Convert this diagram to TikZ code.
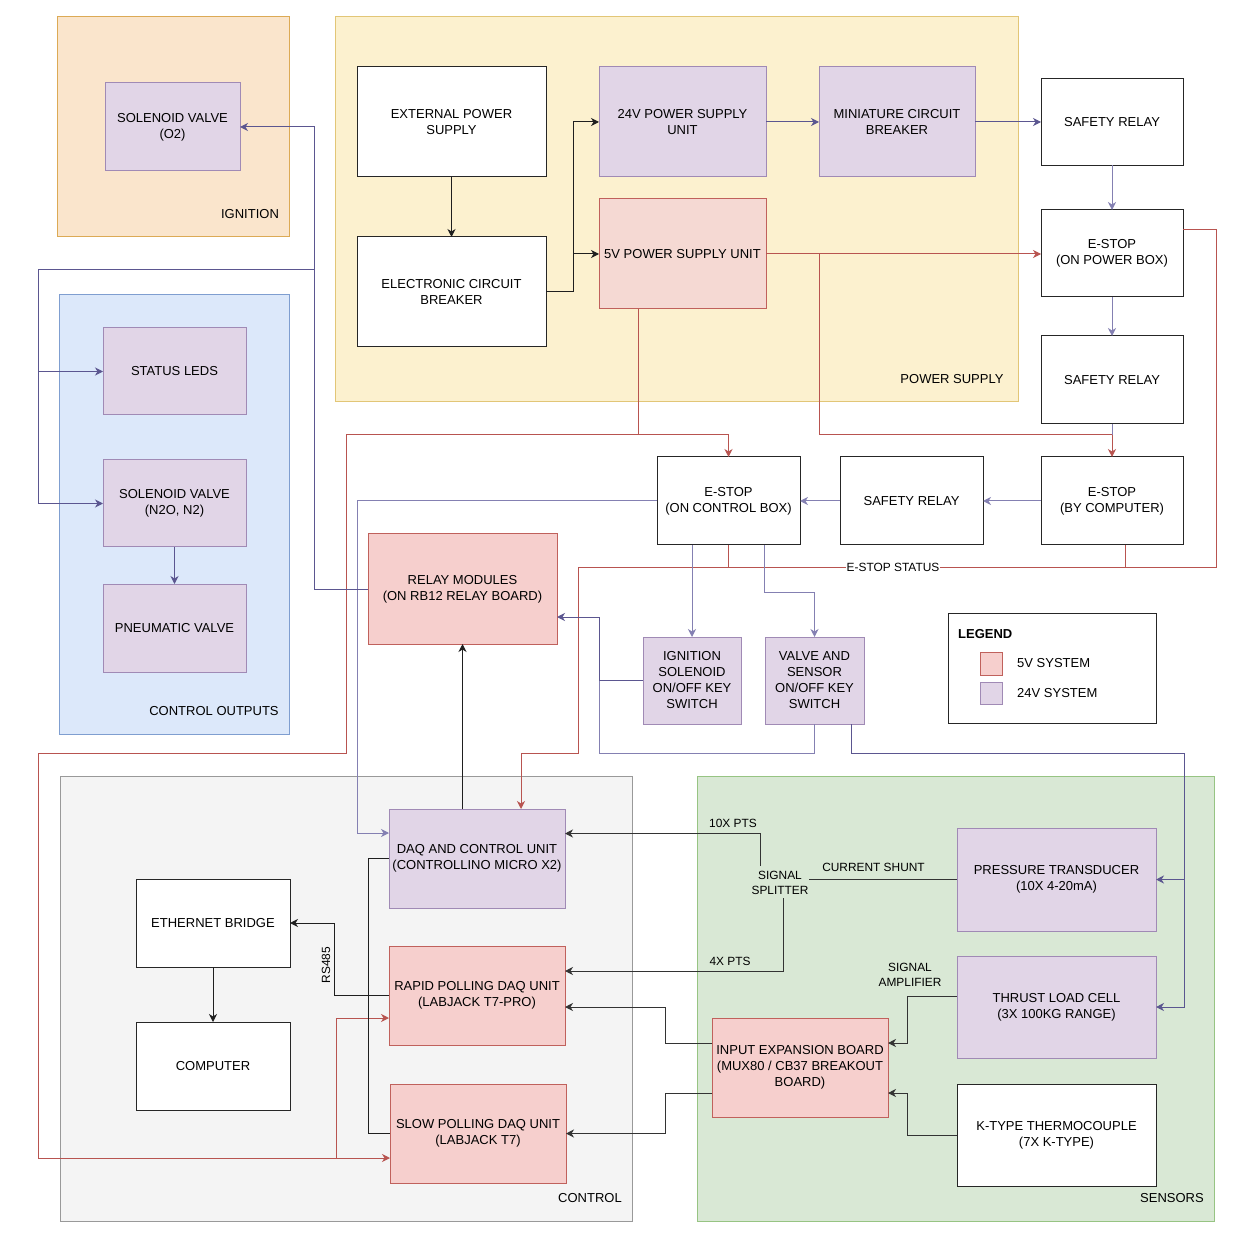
\documentclass[tikz,border=0pt]{standalone}
\usepackage{fontspec}
\newfontfamily\libsans{Liberation Sans}
\usetikzlibrary{arrows.meta}
\newcommand\fmain{\libsans\fontsize{13}{16}\selectfont}
\newcommand\fsmall{\libsans\fontsize{11.9}{14.5}\selectfont}
\definecolor{pfill}{HTML}{E1D5E7}
\definecolor{pstroke}{HTML}{A08AB5}
\definecolor{rfill}{HTML}{F6CFCD}
\definecolor{r5fill}{HTML}{F5D9D3}
\definecolor{rstroke}{HTML}{C0615C}
\definecolor{ofill}{HTML}{FAE5CC}
\definecolor{ostroke}{HTML}{DCAA55}
\definecolor{yfill}{HTML}{FCF1CF}
\definecolor{ystroke}{HTML}{E2C677}
\definecolor{bfill}{HTML}{DCE8FA}
\definecolor{bstroke}{HTML}{7F9ED0}
\definecolor{gfill}{HTML}{F4F4F4}
\definecolor{gstroke}{HTML}{999999}
\definecolor{nfill}{HTML}{D9E8D5}
\definecolor{nstroke}{HTML}{97C483}
\definecolor{pdline}{HTML}{5B5690}
\definecolor{plline}{HTML}{8480B2}
\definecolor{rdline}{HTML}{B85450}
\definecolor{skline}{HTML}{333333}
\tikzset{
  grp/.style={draw, rectangle, inner sep=0pt, outer sep=0pt, line width=1pt},
  box/.style={draw=black!85, fill=white, line width=1pt, inner sep=0pt, outer sep=0pt, align=center, font=\fmain},
  pbox/.style={box, draw=pstroke, fill=pfill},
  rbox/.style={box, draw=rstroke, fill=rfill},
  txt/.style={font=\fmain, align=center, inner sep=0pt},
  lbl/.style={font=\fsmall, align=center, inner sep=0pt},
  arr/.style={-{Stealth[length=8pt,width=8pt,inset=2.5pt]}},
  bk/.style={draw=black!88, line width=1pt},
  sk/.style={draw=skline, line width=1pt},
  pd/.style={draw=pdline, line width=1pt},
  pl/.style={draw=plline, line width=1pt},
  rd/.style={draw=rdline, line width=1pt},
}
\begin{document}
\begin{tikzpicture}[x=1pt,y=-1pt]
\useasboundingbox (0,0) rectangle (1254,1238);
\fill[white] (0,0) rectangle (1254,1238);

% groups
\node[grp, draw=ostroke, fill=ofill, minimum width=232pt, minimum height=220pt] (gign) at (173,127) {};
\node[grp, draw=ystroke, fill=yfill, minimum width=683pt, minimum height=385pt] (gpow) at (676.5,209.5) {};
\node[grp, draw=bstroke, fill=bfill, minimum width=230pt, minimum height=439pt] (gout) at (174,514.5) {};
\node[grp, draw=gstroke, fill=gfill, minimum width=572pt, minimum height=445pt] (gctl) at (346,998.5) {};
\node[grp, draw=nstroke, fill=nfill, minimum width=517pt, minimum height=445pt] (gsen) at (955.5,998.5) {};
\node[txt] (lign) at (250,214) {IGNITION};
\node[txt] (lpow) at (952,379) {POWER SUPPLY};
\node[txt] (lout) at (214,711) {CONTROL OUTPUTS};
\node[txt] (lctl) at (590,1198) {CONTROL};
\node[txt] (lsen) at (1172,1198) {SENSORS};

% nodes
\node[pbox, minimum width=135pt, minimum height=88pt] (solO) at (172.5,127) {SOLENOID VALVE\\(O2)};
\node[box, minimum width=189pt, minimum height=110pt] (eps) at (451.5,122) {EXTERNAL POWER\\SUPPLY};
\node[box, minimum width=189pt, minimum height=110pt] (ecb) at (451.5,292) {ELECTRONIC CIRCUIT\\BREAKER};
\node[pbox, minimum width=167pt, minimum height=110pt] (psu24) at (682.5,122) {24V POWER SUPPLY\\UNIT};
\node[rbox, fill=r5fill, minimum width=167pt, minimum height=110pt] (psu5) at (682.5,254) {5V POWER SUPPLY UNIT};
\node[pbox, minimum width=156pt, minimum height=110pt] (mcb) at (897,122) {MINIATURE CIRCUIT\\BREAKER};
\node[box, minimum width=142pt, minimum height=87pt] (sr1) at (1112,122) {SAFETY RELAY};
\node[box, minimum width=142pt, minimum height=87pt] (espb) at (1112,253.5) {E-STOP\\(ON POWER BOX)};
\node[box, minimum width=142pt, minimum height=88pt] (sr2) at (1112,380) {SAFETY RELAY};
\node[box, minimum width=142pt, minimum height=88pt] (esbc) at (1112,501) {E-STOP\\(BY COMPUTER)};
\node[box, minimum width=143pt, minimum height=88pt] (sr3) at (911.5,501) {SAFETY RELAY};
\node[box, minimum width=143pt, minimum height=88pt] (escb) at (728.5,501) {E-STOP\\(ON CONTROL BOX)};
\node[pbox, minimum width=143pt, minimum height=87pt] (leds) at (174.5,371.5) {STATUS LEDS};
\node[pbox, minimum width=143pt, minimum height=87pt] (solN) at (174.5,503.5) {SOLENOID VALVE\\(N2O, N2)};
\node[pbox, minimum width=143pt, minimum height=88pt] (pneu) at (174.5,628) {PNEUMATIC VALVE};
\node[rbox, minimum width=189pt, minimum height=110pt] (relay) at (462.5,589) {RELAY MODULES\\(ON RB12 RELAY BOARD)};
\node[pbox, minimum width=98pt, minimum height=87pt] (ign) at (692,680.5) {IGNITION\\SOLENOID\\ON/OFF KEY\\SWITCH};
\node[pbox, minimum width=99pt, minimum height=87pt] (valve) at (814.5,680.5) {VALVE AND\\SENSOR\\ON/OFF KEY\\SWITCH};
\node[pbox, minimum width=176pt, minimum height=99pt] (daq) at (477,858.5) {DAQ AND CONTROL UNIT\\(CONTROLLINO MICRO X2)};
\node[box, minimum width=154pt, minimum height=88pt] (eth) at (213,923) {ETHERNET BRIDGE};
\node[box, minimum width=154pt, minimum height=88pt] (comp) at (213,1066) {COMPUTER};
\node[rbox, minimum width=176pt, minimum height=99pt] (rapid) at (477,995.5) {RAPID POLLING DAQ UNIT\\(LABJACK T7-PRO)};
\node[rbox, minimum width=176pt, minimum height=99pt] (slow) at (478,1133.5) {SLOW POLLING DAQ UNIT\\(LABJACK T7)};
\node[pbox, minimum width=199pt, minimum height=103pt] (pt) at (1056.5,879.5) {PRESSURE TRANSDUCER\\(10X 4-20mA)};
\node[pbox, minimum width=199pt, minimum height=102pt] (tlc) at (1056.5,1007) {THRUST LOAD CELL\\(3X 100KG RANGE)};
\node[rbox, minimum width=176pt, minimum height=99pt] (ieb) at (800,1067.5) {INPUT EXPANSION BOARD\\(MUX80 / CB37 BREAKOUT\\BOARD)};
\node[box, minimum width=199pt, minimum height=102pt] (ktc) at (1056.5,1135) {K-TYPE THERMOCOUPLE\\(7X K-TYPE)};

% legend
\node[box, minimum width=208pt, minimum height=110pt] (legend) at (1052,668) {};
\node[txt, font=\fmain\bfseries, anchor=west] (legt) at (958,634) {LEGEND};
\node[rbox, minimum width=22pt, minimum height=23pt] (sw5) at (991,663.5) {};
\node[pbox, minimum width=22pt, minimum height=22pt] (sw24) at (991,693) {};
\node[txt, anchor=west] (leg5) at (1017,663.5) {5V SYSTEM};
\node[txt, anchor=west] (leg24) at (1017,693) {24V SYSTEM};

% text labels in sensors
\node[lbl] (splitter) at (780,883) {SIGNAL\\SPLITTER};
\node[lbl] (l10x) at (733,823) {10X PTS};
\node[lbl] (lshunt) at (873.5,867) {CURRENT SHUNT};
\node[lbl] (l4x) at (730,961) {4X PTS};
\node[lbl] (lamp) at (910,975) {SIGNAL\\AMPLIFIER};
\node[lbl, rotate=90] (lrs) at (326,965) {RS485};

% coordinates
\coordinate (j1) at (573,292);
\coordinate (r1) at (638,435);
\coordinate (r3) at (336,1158);
\coordinate (r4) at (819,254);
\coordinate (r5) at (1112,435);
\coordinate (e1) at (1125,567);
\coordinate (jk) at (599,680.5);
\coordinate (jr) at (1184,753);
\coordinate (jv) at (314,270);
\coordinate (jl) at (38,270);
\coordinate (s1) at (760,866);
\coordinate (s2) at (809,879.5);
\coordinate (s3) at (783,898);

% black connectors power
\draw[bk,arr] (eps.south) -- (ecb.north);
\draw[bk,arr] (ecb.east) -- (j1) |- (psu24.west);
\draw[bk,arr] (j1 |- psu5.west) -- (psu5.west);
\draw[pd,arr] (psu24.east) -- (mcb.west);
\draw[pd,arr] (mcb.east) -- (sr1.west);
\draw[pl,arr] (sr1.south) -- (espb.north);
\draw[pl,arr] (espb.south) -- (sr2.north);
\draw[pl] (sr2.south) -- (r5);

% red 5V distribution
\draw[rd,arr] (psu5.east) -- (psu5.east -| espb.west);
\draw[rd] (r4) -- (819,435) -- (r5);
\draw[rd,arr] (r5) -- (esbc.north);
\draw[rd,arr] ([xshift=-44.5pt]psu5.south) -- (r1) -- (346,435) -- (346,753) -- (38,753) |- ([yshift=-24.5pt]slow.west);
\draw[rd,arr] (r1) -| (escb.north);
\draw[rd,arr] (r3) |- ([yshift=-22.5pt]rapid.west);

% e-stop status
\draw[rd,arr] ([xshift=13pt]esbc.south) -- (e1) -- (578,567) -- (578,753) -| ([xshift=44pt]daq.north);
\draw[rd] (escb.south) -- (escb.south |- e1);
\draw[rd] ([yshift=23.5pt]espb.east) -| (1216,567) -- (e1);
\node[lbl, fill=white, inner sep=1pt] (estat) at (893,567) {E-STOP STATUS};

% purple control chain
\draw[pl,arr] (esbc.west) -- (sr3.east);
\draw[pl,arr] (sr3.west) -- (escb.east);
\draw[pl,arr] (escb.west) -- (357,501) |- ([yshift=25.5pt]daq.west);
\draw[pl,arr] (ign.north |- escb.south) -- (ign.north);
\draw[pl,arr] ([xshift=35.5pt]escb.south) -- ++(0,47) -| (valve.north);
\draw[pd,arr] (ign.west) -- (jk) |- ([yshift=-28pt]relay.east);
\draw[pl] (valve.south) -- ++(0,29) -| (jk);
\draw[pd,arr] ([xshift=36.5pt]valve.south) |- (jr) |- (tlc.east);
\draw[pd,arr] (jr |- pt.east) -- (pt.east);
\draw[pd,arr] (relay.west) -- (314,589) |- (solO.east);
\draw[pd,arr] (jv) -- (jl) |- (leds.west);
\draw[pd,arr] (jl) |- (solN.west);
\draw[pd,arr] (solN.south) -- (pneu.north);

% control area
\draw[bk,arr] (relay.south |- daq.north) -- (relay.south);
\draw[bk,arr] (eth.south) -- (comp.north);
\draw[bk,arr] (rapid.west) -- (334,995.5) |- (eth.east);
\draw[bk] (daq.west) -- ++(-21,0) |- (slow.west);

% sensors
\draw[sk,arr] (s1) |- ([yshift=25pt]daq.east);
\draw[sk] (s2) -- (pt.west);
\draw[sk,arr] (s3) |- ([yshift=24.5pt]rapid.east);
\draw[sk,arr] ([yshift=24.5pt]ieb.west) -- (665,1043) |- ([yshift=-11.5pt]rapid.east);
\draw[sk,arr] ([yshift=-25.5pt]ieb.west) -- (665,1093) |- (slow.east);
\draw[sk,arr] ([yshift=11pt]tlc.west) -- (907,996) |- ([yshift=24.5pt]ieb.east);
\draw[sk,arr] (ktc.west) -- (907,1135) |- ([yshift=-25.5pt]ieb.east);
\end{tikzpicture}
\end{document}
